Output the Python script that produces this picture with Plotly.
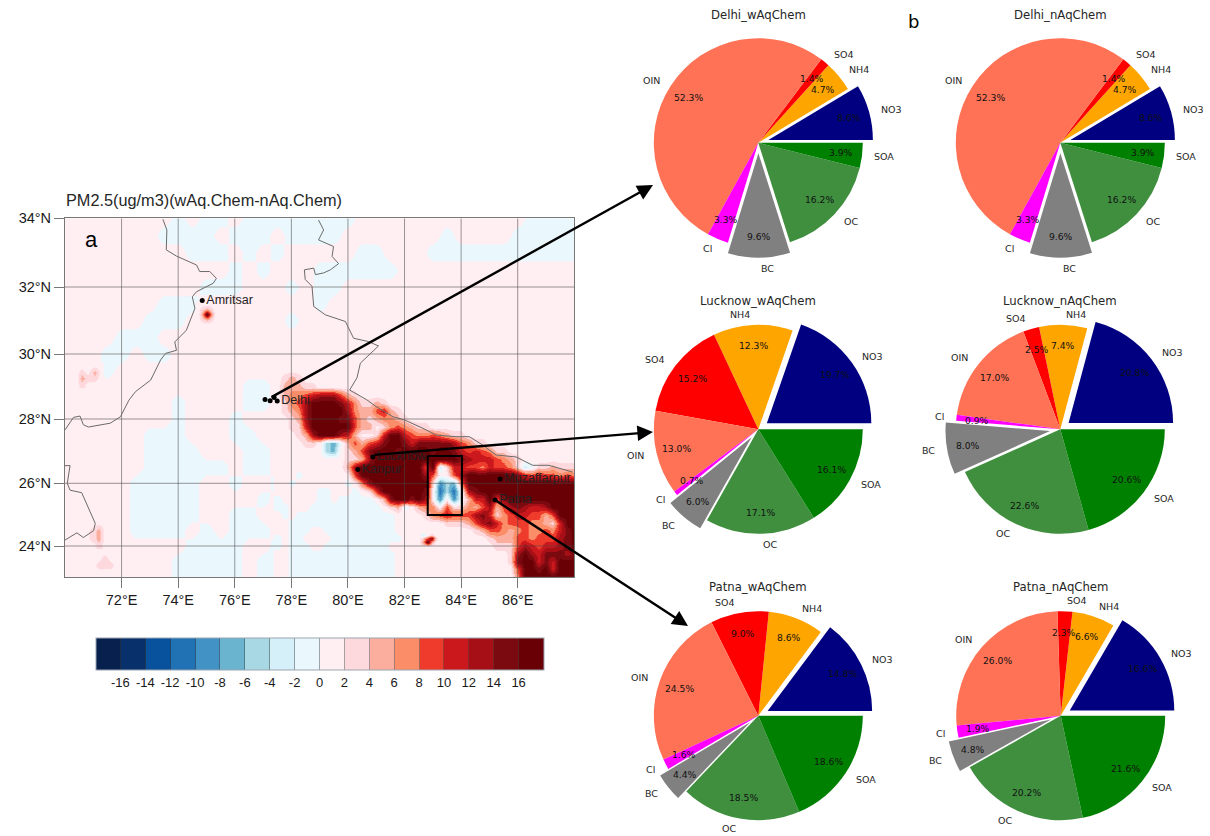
import math
import numpy as np
import plotly.graph_objects as go

W, H = 1210, 836
SPECIES = ["NO3", "NH4", "SO4", "OIN", "Cl", "BC", "OC", "SOA"]
COLORS = ["#000080", "#FFA500", "#FF0000", "#FF7256", "#FF00FF", "#808080", "#3F8F3F", "#008000"]
PULL = [0.1, 0, 0, 0, 0, 0.1, 0, 0]

DELHI_W = [8.6, 4.7, 1.4, 52.3, 3.3, 9.6, 16.2, 3.9]
DELHI_N = [8.6, 4.7, 1.4, 52.3, 3.3, 9.6, 16.2, 3.9]
LUCKNOW_W = [19.7, 12.3, 15.2, 13.0, 0.7, 6.0, 17.1, 16.1]
LUCKNOW_N = [20.8, 7.4, 2.5, 17.0, 0.9, 8.0, 22.6, 20.6]
PATNA_W = [14.8, 8.6, 9.0, 24.5, 1.6, 4.4, 18.5, 18.6]
PATNA_N = [16.6, 6.6, 2.3, 26.0, 1.9, 4.8, 20.2, 21.6]

PIES = [
    ("Delhi_wAqChem", DELHI_W, 758.3, 142.7, 15),
    ("Delhi_nAqChem", DELHI_N, 1060.3, 142.7, 15),
    ("Lucknow_wAqChem", LUCKNOW_W, 758.3, 429.3, 301),
    ("Lucknow_nAqChem", LUCKNOW_N, 1060.3, 429.3, 301),
    ("Patna_wAqChem", PATNA_W, 758.3, 715.7, 587),
    ("Patna_nAqChem", PATNA_N, 1060.7, 715.7, 587),
]
PIE_R = 104.5

LON_TICKS = [72, 74, 76, 78, 80, 82, 84, 86]
LAT_TICKS = [24, 26, 28, 30, 32, 34]
LAT_KNOTS = [23, 24, 26, 28, 30, 32, 34]
PROJ_KNOTS = [0, 31, 93.7, 158, 223, 290, 358.7]

CBAR_TICKS = [-16, -14, -12, -10, -8, -6, -4, -2, 0, 2, 4, 6, 8, 10, 12, 14, 16]
BIN_COLORS = ["#08204E", "#08306B", "#08519C", "#2171B5", "#4292C6", "#6BB4D0", "#A8D8E4", "#D6F0FA", "#EAF8FD",
              "#FFEEF2", "#FDD8DC", "#FCAE9E", "#FB8D68", "#EF3B2C", "#CB181D", "#A50F15", "#7A0A0F", "#680006"]

# coarse field, 0.5 deg, north to south, lon 70..88
COARSE_LON = [70 + 0.5 * i for i in range(37)]
COARSE_LAT = [34, 33.5, 33, 32.5, 32, 31.5, 31, 30.5, 30, 29.5, 29, 28.5, 28, 27.5, 27, 26.5, 26, 25.5, 25, 24.5, 24, 23.5, 23]
COARSE_Z = [
    [1,1,1,1,1,1,1,1,-1,1,-1,-1,1,-1,-1,-1,-1,-1,-1,-1,-1,1,1,1,1,1,1,1,1,1,1,1,1,-1,-1,-1,-1],
    [1,1,1,1,1,1,1,-1,-1,-1,-1,1,-1,-1,-1,1,-1,-1,-1,-1,1,1,1,1,1,1,1,-1,1,1,1,1,-1,-1,-1,-1,-1],
    [1,1,1,1,1,1,1,1,1,-1,-1,-1,1,-1,1,-1,1,1,1,1,1,-1,-1,1,1,1,-1,-1,-1,-1,-1,-1,-1,-1,-1,-1,-1],
    [1,1,1,1,1,1,1,1,1,1,1,1,-1,1,-1,1,1,1,-1,-1,-1,-1,-1,-1,1,1,1,1,1,1,1,1,1,1,1,1,1],
    [1,1,1,1,1,1,1,1,1,1,-1,-1,-1,1,1,1,-1,1,-1,-1,1,1,1,1,1,1,1,1,1,1,1,1,1,1,1,1,1],
    [1,1,1,1,1,1,1,-1,-1,-1,1,1,1,1,1,1,1,1,-1,1,1,1,1,1,1,1,1,1,1,1,1,1,1,1,1,1,1],
    [1,1,1,1,1,1,-1,-1,-1,1,1,1,1,1,1,1,-1,1,1,1,1,1,1,1,1,1,1,1,1,1,1,1,1,1,1,1,1],
    [1,1,1,1,-1,-1,-1,1,1,1,1,1,1,1,1,1,1,1,1,1,1,1,1,1,1,1,1,1,1,1,1,1,1,1,1,1,1],
    [1,1,1,-1,-1,1,-1,-1,1,1,1,1,1,1,1,1,1,1,1,1,1,1,1,1,1,1,1,1,1,1,1,1,1,1,1,1,1],
    [1,1,1,-1,1,1,1,1,1,1,1,1,1,1,1,1,1,1,1,1,1,1,1,1,1,1,1,1,1,1,1,1,1,1,1,1,1],
    [1,1,1,1,1,1,1,1,1,1,1,1,1,-1,-1,1,1,1,1,1,1,1,1,1,1,1,1,1,1,1,1,1,1,1,1,1,1],
    [1,1,1,1,1,1,1,1,-1,1,1,1,1,-1,-1,1,1,1,1,1,1,1,1,1,1,1,1,1,1,1,1,1,1,1,1,1,1],
    [1,1,1,1,1,1,1,1,-1,1,1,1,-1,1,1,1,1,1,1,1,1,1,1,1,1,1,1,1,1,1,1,1,1,1,1,1,1],
    [1,1,1,1,1,1,-1,-1,-1,1,1,1,-1,-1,1,1,1,1,1,1,1,1,1,1,1,1,1,1,1,1,1,1,1,1,1,1,1],
    [1,1,1,1,1,1,-1,-1,-1,-1,1,1,1,-1,-1,1,1,1,1,1,1,1,1,1,1,1,1,1,1,1,1,1,1,1,1,1,1],
    [1,1,1,1,1,1,-1,-1,-1,-1,-1,-1,1,-1,-1,1,1,1,1,1,1,1,1,1,1,1,1,1,1,1,1,1,1,1,1,1,1],
    [1,1,1,1,1,-1,-1,-1,-1,-1,1,1,-1,1,1,-1,1,1,1,1,1,1,1,1,1,1,1,1,1,1,1,1,1,1,1,1,1],
    [1,1,1,1,1,-1,-1,-1,-1,-1,1,1,1,1,-1,1,1,1,1,1,1,1,1,1,1,1,1,1,1,1,1,1,1,1,1,1,1],
    [1,1,1,1,1,-1,-1,-1,-1,-1,1,1,-1,-1,1,1,1,1,1,1,1,1,1,1,1,1,1,1,1,1,1,1,1,1,1,1,1],
    [1,1,1,1,1,-1,-1,-1,-1,1,-1,1,-1,-1,-1,1,1,1,1,1,1,1,1,1,1,1,1,1,1,1,1,1,1,1,1,1,1],
    [1,1,1,1,1,1,1,1,1,-1,-1,-1,-1,1,1,-1,1,1,1,1,1,1,1,1,1,1,1,1,1,1,1,1,1,1,1,1,1],
    [1,1,1,1,1,1,1,1,-1,-1,-1,-1,-1,1,-1,-1,1,1,1,1,1,1,1,1,1,1,1,1,1,1,1,1,1,1,1,1,1],
    [1,1,1,1,1,1,1,1,-1,-1,-1,-1,-1,1,-1,-1,1,1,1,1,1,1,1,1,1,1,1,1,1,1,1,1,1,1,1,1,1],
]

# fine field, 0.25 deg, north to south, lon 77.5..88 (rows end early where the rest stays at 1)
FINE_LON = [77.5 + 0.25 * i for i in range(43)]
FINE_LAT = [30 - 0.25 * i for i in range(29)]
FINE_Z = [
    [1],
    [1],
    [1],
    [1,3,5,3],
    [1,5,5,5,3,3],
    [1,5,7,7,9,11,13,13,13,9,5,3],
    [1,3,7,9,13,17,17,17,17,15,11,7,3,3,5,3],
    [1,3,5,7,13,17,17,17,17,17,13,7,5,5,9,11,5,3],
    [1,1,3,5,13,17,17,17,17,15,15,9,5,3,5,7,7,5,3],
    [1,1,3,3,11,17,17,17,17,17,17,9,5,5,1,3,7,9,7,5,3,3],
    [1,1,1,3,5,13,17,17,17,13,11,5,1,1,3,11,17,17,11,9,7,7,9,7,5,3,3],
    [1,1,1,1,3,3,1,-5,-7,-1,5,9,5,9,11,15,17,17,15,11,15,15,15,15,15,13,9,7,3,3],
    [1,1,1,1,1,1,1,-5,-7,1,3,5,9,15,17,17,17,15,17,17,17,17,15,17,17,15,11,9,11,9,7,3,3],
    [1,1,1,1,1,1,1,1,1,1,3,3,5,13,17,17,17,17,17,17,17,17,17,17,17,17,15,13,11,11,11,9,7,5,3],
    [1,1,1,1,1,1,1,1,1,1,5,13,17,17,17,17,17,17,17,17,17,9,17,-3,3,11,11,9,9,7,11,9,9,7,3,-3,-1,3,3,5,3,3,3],
    [1,1,1,-1,1,1,1,1,1,1,1,9,17,17,17,17,17,17,17,17,17,13,9,1,1,9,13,17,17,17,17,17,17,17,15,11,9,11,9,9,7,9,7],
    [1,1,-1,1,1,1,1,1,1,1,-1,1,7,15,17,17,17,17,17,17,17,17,3,-9,-5,-7,7,17,17,17,17,17,17,17,17,17,17,17,17,17,17,17,17],
    [1,1,1,1,1,1,-1,-1,1,1,1,-1,1,3,11,17,17,17,17,17,17,15,1,-11,-5,-11,-1,13,15,17,17,17,17,17,17,17,17,17,17,17,17,17,17],
    [-1,1,1,1,1,1,-1,-1,1,-1,-1,-1,-1,-1,1,5,15,17,17,15,17,13,1,-9,1,-9,-1,5,11,11,17,9,15,17,17,17,17,17,17,17,17,17,17],
    [-1,-1,1,1,1,-1,-1,-1,-1,-1,-1,-1,-1,-1,-1,1,3,5,-1,1,5,7,7,1,9,3,3,7,5,9,13,5,9,13,15,13,11,11,13,17,17,17,17],
    [1,-1,1,-1,-1,-1,-1,-1,-1,-1,-1,-1,-1,-1,-1,-1,-1,1,1,1,1,3,7,9,11,9,9,9,13,15,11,3,7,9,11,11,9,9,5,9,17,17,17],
    [1,1,-1,-1,-1,-1,-1,-1,-1,-1,-1,-1,-1,-1,-1,-1,-1,1,1,1,1,1,1,1,3,3,3,5,9,13,15,11,7,9,9,9,7,7,5,3,11,17,17],
    [1,1,-1,-1,-1,1,1,-1,-1,-1,-1,-1,-1,-1,-1,-1,-1,1,1,1,1,1,1,1,1,1,1,1,3,5,9,9,7,5,7,9,7,7,9,7,11,15,17],
    [-1,1,-1,-1,1,1,1,1,-1,-1,-1,-1,-1,-1,-1,-1,-1,-1,1,1,1,1,1,1,1,1,1,1,1,1,3,5,5,5,9,9,7,9,9,9,13,15,17],
    [-1,1,-1,-1,-1,1,1,-1,-1,-1,-1,-1,-1,-1,-1,-1,1,1,1,1,1,1,1,1,1,1,1,1,1,1,1,3,3,3,9,13,11,9,11,11,13,15,17],
    [1,1,-1,-1,-1,-1,-1,-1,-1,-1,-1,-1,-1,-1,-1,-1,-1,1,1,1,1,1,1,1,1,1,1,1,1,1,1,1,1,3,13,17,13,11,15,15,15,13,15],
    [1,1,-1,-1,-1,-1,-1,-1,-1,-1,-1,-1,-1,-1,-1,-1,-1,1,1,1,1,1,1,1,1,1,1,1,1,1,1,1,1,3,15,17,17,11,15,11,17,17,17],
    [1,1,-1,-1,-1,-1,-1,-1,-1,-1,-1,-1,-1,-1,-1,-1,-1,1,1,1,1,1,1,1,1,1,1,1,1,1,1,1,1,1,9,17,17,15,17,11,17,17,17],
    [1,1,-1,-1,-1,-1,-1,-1,-1,-1,-1,-1,-1,-1,-1,-1,-1,1,1,1,1,1,1,1,1,1,1,1,1,1,1,1,1,1,7,17,17,17,17,17,17,17,17],
]

# small local hot spots
AMRITSAR_LON = [74.7, 74.85, 75.0, 75.15, 75.3]
AMRITSAR_LAT = [31.5, 31.35, 31.2, 31.05, 30.9]
AMRITSAR_Z = [[1,1,1,1,1],[1,3,5,3,1],[1,5,17,7,1],[1,3,5,3,1],[1,1,1,1,1]]
SPOT1_LON = [70.4, 70.6, 70.8, 71.05, 71.25]
SPOT1_LAT = [29.65, 29.45, 29.25, 29.05]
SPOT1_Z = [[1,1,1,1,1],[1,3,1,5,1],[1,5,3,3,1],[1,3,1,1,1]]
SPOT2_LON = [70.7, 71.0, 71.2, 71.4, 71.7]
SPOT2_LAT = [24.75, 24.5, 24.25, 24.0]
SPOT2_Z = [[1,1,1,1,1],[1,3,5,1,1],[1,3,5,1,1],[1,1,3,1,1]]
SPOT3_LON = [71.0, 71.2, 71.4, 71.6, 71.8]
SPOT3_LAT = [23.8, 23.6, 23.4, 23.2]
SPOT3_Z = [[1,1,1,1,1],[1,1,3,1,1],[1,3,3,3,1],[1,1,1,1,1]]
SPOT4_LON = [82.5, 82.65, 82.8, 82.95, 83.1]
SPOT4_LAT = [24.48, 24.36, 24.24, 24.12, 24.0]
SPOT4_Z = [[1,1,1,1,1],[1,-3,1,3,1],[1,3,9,15,3],[1,5,17,5,1],[1,1,1,1,1]]

BORDER_A_LON = [73.46,73.6,73.58,73.94,74.65,74.76,75.12,75.35,75.24,74.65,74.5,74.59,74.29,73.88,73.94,73.56,73.38,73.03,72.49,72.26,71.96,71.6,70.83,70.65,70.53,70.3,70.0]
BORDER_A_LAT = [33.97,33.66,33.08,32.9,32.64,32.45,32.45,32.25,32.11,31.86,31.71,31.36,30.71,30.36,30.11,30.02,29.82,29.2,28.84,28.58,28.07,27.87,27.75,27.82,28.09,28.05,27.66]
BORDER_B_LON = [70,70.18,70.08,70.18,70.59,71.07,71.01,70.65,70.42,70]
BORDER_B_LAT = [26.55,26.55,26.0,25.78,25.7,24.72,24.49,24.27,24.42,24.19]
BORDER_C_LON = [78.96,79.14,78.96,79.49,79.44,79.67,79.38,79.14,78.85,78.79,78.46,78.49,78.73,78.79,79.2,79.91,80.2,80.73,81.08,80.44,80.32,80.06,80.65,81,81.59,82,82.65,83.12,83.82,84.29,84.76,85.24,85.94,86.53,87.1,87.94]
BORDER_C_LAT = [33.95,33.66,33.37,33.18,32.89,32.68,32.5,32.41,32.36,32.55,32.5,32.22,32.02,31.42,31.17,30.97,30.47,30.37,30.24,29.72,29.27,28.89,28.6,28.38,28.07,27.97,27.71,27.5,27.45,27.45,27.19,26.88,26.82,26.56,26.56,26.35]

CITY_NAMES = ["Amritsar", "Delhi", "Lucknow", "Kanpur", "Muzaffarpur", "Patna"]
CITY_LON = [74.85, 77.5, 80.88, 80.35, 85.38, 85.2]
CITY_LAT = [31.6, 28.55, 26.82, 26.43, 26.13, 25.47]
DELHI_DOTS_LON = [77.07, 77.25, 77.39]
DELHI_DOTS_LAT = [28.6, 28.56, 28.66]
BOX_LON = [82.82, 84.03, 84.03, 82.82, 82.82]
BOX_LAT = [26.85, 26.85, 24.99, 24.99, 26.85]


def proj(lat):
    return np.interp(lat, LAT_KNOTS, PROJ_KNOTS)


colorscale = []
for k, c in enumerate(BIN_COLORS):
    colorscale += [[k / 18, c], [(k + 1) / 18, c]]

DK = "#1a1a1a"
fig = go.Figure()


def add_field(lon, lat, z, **kw):
    rows = [list(r) + [1] * (len(lon) - len(r)) for r in z]
    arr = np.array(rows, dtype=float)[::-1]
    y = proj(np.array(lat, dtype=float))[::-1]
    fig.add_trace(go.Heatmap(x=lon, y=y, z=arr, zmin=-18, zmax=18, colorscale=colorscale,
                             zsmooth="best", hoverinfo="skip", **kw))


add_field(COARSE_LON, COARSE_LAT, COARSE_Z, showscale=True,
          colorbar=dict(orientation="h", thickness=32.4, thicknessmode="pixels", len=447.6, lenmode="pixels",
                        x=319.5 / W, xanchor="center", y=1 - 638.3 / H, yanchor="top", xpad=0, ypad=0,
                        tickvals=CBAR_TICKS, ticktext=[str(t) for t in CBAR_TICKS], ticks="inside", ticklen=32,
                        tickcolor="rgba(60,60,60,0.45)", tickwidth=1, outlinecolor="#9aa6b0", outlinewidth=1,
                        borderwidth=0, tickfont=dict(family="Liberation Sans", size=13, color=DK)))
add_field(FINE_LON, FINE_LAT, FINE_Z, showscale=False)
for a, b, c in [(AMRITSAR_LON, AMRITSAR_LAT, AMRITSAR_Z), (SPOT1_LON, SPOT1_LAT, SPOT1_Z),
                (SPOT2_LON, SPOT2_LAT, SPOT2_Z), (SPOT3_LON, SPOT3_LAT, SPOT3_Z), (SPOT4_LON, SPOT4_LAT, SPOT4_Z)]:
    add_field(a, b, c, showscale=False)

# graticule on top of the field
gx, gy = [], []
for lon in LON_TICKS:
    gx += [lon, lon, None]
    gy += [PROJ_KNOTS[0], PROJ_KNOTS[-1], None]
for lat in LAT_TICKS[:-1]:
    gx += [70, 88, None]
    gy += [float(proj(lat)), float(proj(lat)), None]
fig.add_trace(go.Scatter(x=gx, y=gy, mode="lines", line=dict(color="rgba(70,70,70,0.55)", width=1), hoverinfo="skip"))

for lon, lat in [(BORDER_A_LON, BORDER_A_LAT), (BORDER_B_LON, BORDER_B_LAT), (BORDER_C_LON, BORDER_C_LAT)]:
    fig.add_trace(go.Scatter(x=lon, y=proj(lat), mode="lines", line=dict(color="#6b6b6b", width=1), hoverinfo="skip"))

fig.add_trace(go.Scatter(x=BOX_LON, y=proj(BOX_LAT), mode="lines", line=dict(color="black", width=2), hoverinfo="skip"))
fig.add_trace(go.Scatter(x=DELHI_DOTS_LON, y=proj(DELHI_DOTS_LAT), mode="markers",
                         marker=dict(color="black", size=5), hoverinfo="skip"))
fig.add_trace(go.Scatter(x=CITY_LON, y=proj(CITY_LAT), mode="markers+text", text=CITY_NAMES,
                         textposition="middle right", marker=dict(color="black", size=5),
                         textfont=dict(family="Liberation Sans", size=12.5, color="#222222"), hoverinfo="skip"))

annotations = []


def px_note(text, x, y, size, family="DejaVu Sans", color="#262626", xanchor="center"):
    annotations.append(dict(text=text, x=x / W, y=1 - y / H, xref="paper", yref="paper", showarrow=False,
                            xanchor=xanchor, yanchor="middle", font=dict(family=family, size=size, color=color)))


for title, vals, cx, cy, ty in PIES:
    r_dom = PIE_R * 1.1
    total = sum(vals)
    fig.add_trace(go.Pie(labels=SPECIES, values=vals, sort=False, direction="counterclockwise",
                         rotation=90 - 360 * vals[0] / total,
                         pull=PULL, textinfo="none", hoverinfo="label+value", showlegend=False,
                         marker=dict(colors=COLORS, line=dict(width=0)),
                         domain=dict(x=[(cx - r_dom) / W, (cx + r_dom) / W],
                                     y=[1 - (cy + r_dom) / H, 1 - (cy - r_dom) / H])))
    px_note(title, cx, ty, 11.7)
    start = 0.0
    for name, v, p in zip(SPECIES, vals, PULL):
        mid = math.radians(start + 180 * v / total)
        start += 360 * v / total
        c, s = math.cos(mid), math.sin(mid)
        off = p * PIE_R
        px_note(f"{v:.1f}%", cx + (0.8 * PIE_R + off) * c, cy - (0.8 * PIE_R + off) * s, 9.2, color="#111111")
        lx, ly = cx + (1.1 * PIE_R + off) * c, cy - (1.1 * PIE_R + off) * s
        px_note(name, lx, ly, 9.5, xanchor="left" if c > 0 else "right")

px_note("PM2.5(ug/m3)(wAq.Chem-nAq.Chem)", 64, 200, 16.3, family="Liberation Sans", xanchor="left")
px_note("a", 92, 240, 22, family="Liberation Sans", color="black")
px_note("b", 914, 22, 18, color="black")

ARROWS = [((653, 185), (270, 398)), ((653, 432), (373, 455)), ((688, 626), (492, 498))]
for (hx, hy), (tx, ty) in ARROWS:
    annotations.append(dict(x=hx / W, y=1 - hy / H, xref="paper", yref="paper", text="", showarrow=True,
                            ax=tx - hx, ay=ty - hy, axref="pixel", ayref="pixel", arrowhead=2, arrowsize=1.3,
                            arrowwidth=2.4, arrowcolor="black", standoff=0))

fig.update_layout(
    width=W, height=H, margin=dict(l=0, r=0, t=0, b=0, autoexpand=False),
    paper_bgcolor="white", plot_bgcolor="white", showlegend=False, annotations=annotations,
    xaxis=dict(domain=[65 / W, 574.3 / W], range=[70, 88], tickvals=LON_TICKS, ticktext=[f"{t}°E" for t in LON_TICKS],
               ticks="outside", ticklen=10, tickcolor="#777777", showgrid=False, zeroline=False,
               mirror=True, showline=True, linecolor="#777777", linewidth=1,
               tickfont=dict(family="Liberation Sans", size=14.5, color=DK)),
    yaxis=dict(domain=[1 - 577 / H, 1 - 218.3 / H], range=[PROJ_KNOTS[0], PROJ_KNOTS[-1]],
               tickvals=[float(proj(t)) for t in LAT_TICKS], ticktext=[f"{t}°N" for t in LAT_TICKS],
               ticks="outside", ticklen=10, tickcolor="#777777", showgrid=False, zeroline=False,
               mirror=True, showline=True, linecolor="#777777", linewidth=1,
               tickfont=dict(family="Liberation Sans", size=14.5, color=DK)),
)
fig.write_html("out.html", config={"displayModeBar": False},
               post_script="document.body.style.margin='0';document.body.style.overflow='hidden';")
